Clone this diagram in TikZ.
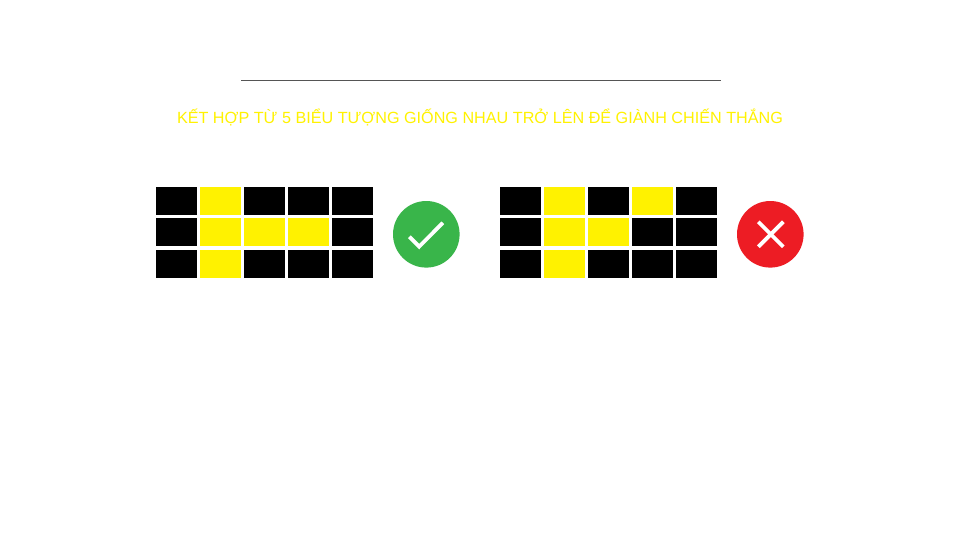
\documentclass[tikz,border=0pt]{standalone}
\usepackage{fontspec}
\setmainfont{Liberation Sans}
\definecolor{sloty}{HTML}{FFF200}
\definecolor{titley}{HTML}{FFF200}
\definecolor{okgreen}{HTML}{39B54A}
\definecolor{badred}{HTML}{ED1C24}
\definecolor{rulegray}{HTML}{555555}
\tikzset{
  px/.style={x=1pt,y=-1pt},
  blk/.style={fill=black,draw=none},
  ylw/.style={fill=sloty,draw=none},
  mark line/.style={draw=white,line width=3.8pt}
}
\newcommand{\gridrow}[3]{% x offset, y offset, colours
  \foreach \c [count=\i from 0] in {#3}{
    \fill[\c] ({#1+44*\i},#2) rectangle ++(41,28);
  }
}
\begin{document}
\begin{tikzpicture}[px]
\useasboundingbox (0,0) rectangle (960,540);
\fill[white] (0,0) rectangle (960,540);
\coordinate (ruleL) at (241,80.5);
\coordinate (ruleR) at (721,80.5);
\draw[rulegray,line width=1.2pt] (ruleL) -- (ruleR);
\node[text=titley,font=\fontsize{16.18pt}{20pt}\selectfont,inner sep=0pt,anchor=center] (title) at (480,117.5)
  {KẾT HỢP TỪ 5 BIỂU TƯỢNG GIỐNG NHAU TRỞ LÊN ĐỂ GIÀNH CHIẾN THẮNG};
% left grid
\gridrow{156}{187}{blk,ylw,blk,blk,blk}
\gridrow{156}{218}{blk,ylw,ylw,ylw,blk}
\gridrow{156}{250}{blk,ylw,blk,blk,blk}
% right grid
\gridrow{500}{187}{blk,ylw,blk,ylw,blk}
\gridrow{500}{218}{blk,ylw,ylw,blk,blk}
\gridrow{500}{250}{blk,ylw,blk,blk,blk}
% badges
\fill[okgreen] (426.3,234.3) circle (33.3);
\draw[mark line] (409.3,236.7) -- (419.2,246.6) -- (442.8,222.8);
\fill[badred] (770.3,234.3) circle (33.3);
\draw[mark line] (758.3,221.8) -- (783.3,246.8);
\draw[mark line] (783.3,221.8) -- (758.3,246.8);
\end{tikzpicture}
\end{document}
